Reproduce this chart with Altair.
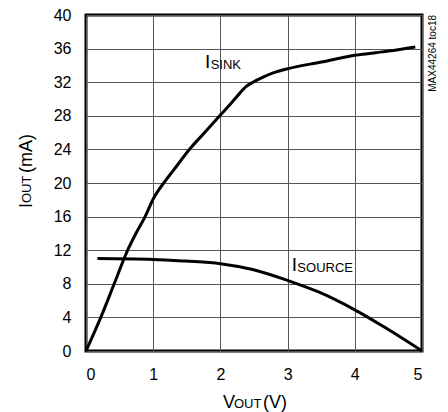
import altair as alt
import pandas as pd

FONT = "Liberation Sans, Arial, sans-serif"

# I_SINK curve (V, mA)
sink_v = [0.0, 0.22, 0.42, 0.62, 0.75, 0.88, 1.0, 1.175, 1.3, 1.55, 1.8, 2.0, 2.16, 2.29,
          2.385, 2.485, 2.635, 2.785, 3.0, 3.5, 4.0, 4.5, 4.9]
sink_i = [0.0, 4.0, 8.0, 12.0, 14.1, 16.0, 18.1, 20.2, 21.5, 24.1, 26.3, 28.1, 29.5, 30.7,
          31.5, 32.0, 32.6, 33.1, 33.6, 34.4, 35.2, 35.7, 36.2]

# I_SOURCE curve (V, mA)
src_v = [0.17, 1.0, 1.48, 2.0, 2.48, 3.0, 3.47, 4.0, 4.47, 5.0]
src_i = [11.0, 10.9, 10.7, 10.4, 9.7, 8.4, 7.0, 4.9, 2.7, 0.0]

x_ticks = [0, 1, 2, 3, 4, 5]
y_ticks = [0, 4, 8, 12, 16, 20, 24, 28, 32, 36, 40]

df = pd.concat([
    pd.DataFrame({"v": sink_v, "i": sink_i, "s": "sink"}),
    pd.DataFrame({"v": src_v, "i": src_i, "s": "source"}),
])

xs = alt.Scale(domain=[0, 5], nice=False)
ys = alt.Scale(domain=[0, 40], nice=False)

common = dict(title=None, grid=True, domain=False, ticks=False, labelFontSize=16,
              labelFont=FONT, labelColor="black", gridColor="#555", gridWidth=1,
              labelOverlap=False, format="d", labelPadding=15)
x_axis = alt.Axis(values=x_ticks, **common)
y_axis = alt.Axis(values=y_ticks, **common)

lines = alt.Chart(df).mark_line(color="black", strokeWidth=3, interpolate="monotone").encode(
    x=alt.X("v:Q", scale=xs, axis=x_axis),
    y=alt.Y("i:Q", scale=ys, axis=y_axis),
    detail="s:N",
)

# in-plot labels (data coordinates)
lab = pd.DataFrame({
    "v": [1.77, 1.855, 3.06, 3.145],
    "i": [33.69, 33.57, 9.52, 9.4],
    "t": ["I", "SINK", "I", "SOURCE"],
    "fs": [19, 13, 19, 13],
})
labels = alt.Chart(lab).mark_text(align="left", baseline="alphabetic", font=FONT, color="black").encode(
    x=alt.X("v:Q", scale=xs, axis=x_axis), y=alt.Y("i:Q", scale=ys, axis=y_axis), text="t:N",
    size=alt.Size("fs:Q", scale=None, legend=None),
)

def txt(t, x, y, fs, angle=0, align="left"):
    kw = dict(align=align, baseline="alphabetic", font=FONT, fontSize=fs, color="black")
    if angle:
        kw["angle"] = angle
    return alt.Chart(pd.DataFrame({"t": [t]})).mark_text(**kw).encode(
        x=alt.value(x), y=alt.value(y), text="t:N")

titles = [
    txt("V", 137, 393, 18),
    txt("OUT", 148, 393, 13),
    txt("(V)", 177, 393, 18),
    txt("I", -54, 193, 18, angle=270),
    txt("OUT", -55, 188, 13, angle=270),
    txt("(mA)", -54, 158, 18, angle=270),
    txt("MAX44264 toc18", 350, 0, 10, angle=270, align="right"),
]

chart = alt.layer(lines, labels, *titles).properties(
    width=336, height=336,
    autosize=alt.AutoSizeParams(type="none"),
    padding={"left": 86, "top": 15, "right": 26, "bottom": 61},
    background="white",
).configure_view(stroke="black", strokeWidth=3)

chart.save("out.html", embed_options={"renderer": "svg", "actions": False})
